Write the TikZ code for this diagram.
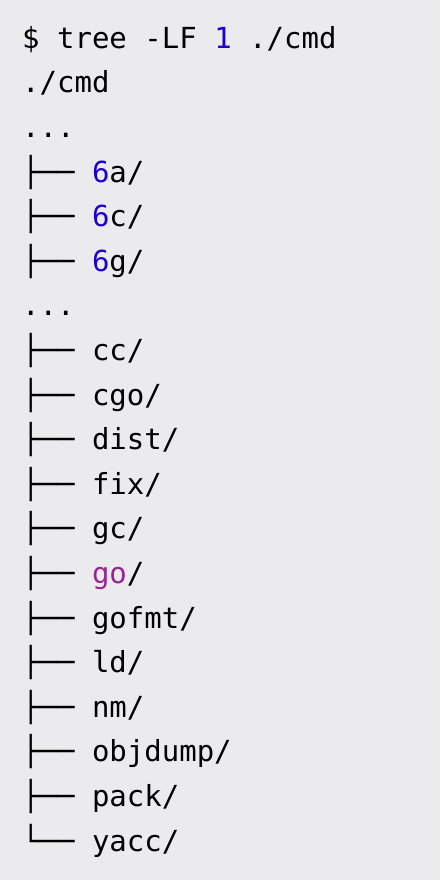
\documentclass[tikz,border=0pt]{standalone}
\usepackage{fontspec}
\setmonofont{DejaVu Sans Mono}
\definecolor{bg}{RGB}{235,235,238}
\definecolor{num}{RGB}{28,0,207}
\definecolor{kw}{RGB}{155,35,147}
\begin{document}
\begin{tikzpicture}[x=1pt,y=1pt,
  codeline/.style={anchor=base west, inner sep=0pt, font=\ttfamily\fontsize{29}{35}\selectfont, text=black}]
\fill[bg] (0,0) rectangle (440,880);
\useasboundingbox (0,0) rectangle (440,880);
\def\bx{22}
\node[codeline] (l0) at (\bx,831.7) {\$ tree -LF \textcolor{num}{1} ./cmd};
\node[codeline] (l1) at (\bx,787.1) {./cmd};
\node[codeline] (l2) at (\bx,742.5) {...};
\node[codeline] (l3) at (\bx,697.9) {├── \textcolor{num}{6}a/};
\node[codeline] (l4) at (\bx,653.3) {├── \textcolor{num}{6}c/};
\node[codeline] (l5) at (\bx,608.7) {├── \textcolor{num}{6}g/};
\node[codeline] (l6) at (\bx,564.1) {...};
\node[codeline] (l7) at (\bx,519.5) {├── cc/};
\node[codeline] (l8) at (\bx,474.9) {├── cgo/};
\node[codeline] (l9) at (\bx,430.3) {├── dist/};
\node[codeline] (l10) at (\bx,385.7) {├── fix/};
\node[codeline] (l11) at (\bx,341.1) {├── gc/};
\node[codeline] (l12) at (\bx,296.5) {├── \textcolor{kw}{go}/};
\node[codeline] (l13) at (\bx,251.9) {├── gofmt/};
\node[codeline] (l14) at (\bx,207.3) {├── ld/};
\node[codeline] (l15) at (\bx,162.7) {├── nm/};
\node[codeline] (l16) at (\bx,118.1) {├── objdump/};
\node[codeline] (l17) at (\bx,73.5) {├── pack/};
\node[codeline] (l18) at (\bx,28.9) {└── yacc/};
\end{tikzpicture}
\end{document}
